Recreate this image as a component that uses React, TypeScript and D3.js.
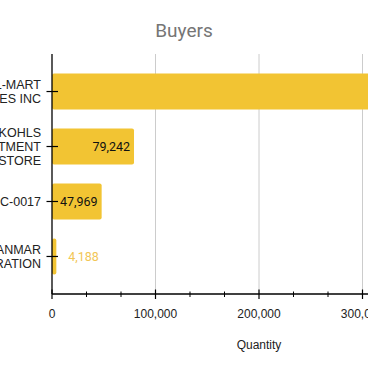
import React from "react";
import * as d3 from "d3";

const categories = ["WAL-MART|STORES INC", "KOHLS|DEPARTMENT|STORE", "PUBLIC-0017", "YANMAR|CORPORATION"];
const values = [352418, 79242, 47969, 4188];
const majorTicks = [0, 100000, 200000, 300000, 400000];
const minorTicks = [33333, 66667, 133333, 166667, 233333, 266667, 333333, 366667];

const W = 368, H = 371;
const left = 52, right = 466, top = 54, bottom = 294;
const barColor = "#F2C433";

export default function App() {
  const x = d3.scaleLinear().domain([0, 400000]).range([left, right]);
  const y = d3.scaleBand().domain(categories).range([top, bottom]).paddingInner(0.345).paddingOuter(0.355);
  const fmt = d3.format(",");
  return (
    <svg width={W} height={H} style={{ position: "absolute", left: 0, top: 0, overflow: "hidden" }}>
      <text x={W / 2} y={37} textAnchor="middle" fontFamily="Roboto, Arial, sans-serif" fontSize={19} fill="#757575">Buyers</text>
      {majorTicks.slice(1).map(t => (
        <line key={"g" + t} x1={x(t)} x2={x(t)} y1={top} y2={bottom} stroke="#cccccc" strokeWidth={1} />
      ))}
      {categories.map((c, i) => {
        const v = values[i];
        const y0 = y(c)!;
        const bw = y.bandwidth();
        const w = x(v) - x(0);
        const inside = w > 40;
        return (
          <g key={c}>
            <rect x={x(0)} y={y0} width={w} height={bw} rx={2} ry={2} fill={barColor} />
            <text x={inside ? x(v) - 4 : x(v) + 12} y={y0 + bw / 2 + 4.5} textAnchor={inside ? "end" : "start"}
              fontFamily="Roboto, Arial, sans-serif" fontSize={12.5} fill={inside ? "#111111" : "#F2C655"}>{fmt(v)}</text>
          </g>
        );
      })}
      <line x1={left} x2={left} y1={top} y2={bottom} stroke="#000" strokeWidth={1.3} />
      <line x1={left} x2={right} y1={bottom} y2={bottom} stroke="#000" strokeWidth={1.3} />
      {categories.map(c => {
        const lines = c.split("|");
        const cy = y(c)! + y.bandwidth() / 2;
        const lh = 14;
        const start = cy - ((lines.length - 1) * lh) / 2;
        return (
          <g key={"l" + c}>
            <line x1={left - 5.5} x2={left + 6} y1={cy} y2={cy} stroke="#000" strokeWidth={1.2} />
            {lines.map((ln, j) => (
              <text key={j} x={41} y={start + j * lh + 4.5} textAnchor="end" fontFamily="'Liberation Sans', Arial, sans-serif" fontSize={12.5} fill="#222">{ln}</text>
            ))}
          </g>
        );
      })}
      {majorTicks.map(t => (
        <g key={"t" + t}>
          <line x1={x(t)} x2={x(t)} y1={bottom - 4.5} y2={bottom + 5} stroke="#000" strokeWidth={1.2} />
          <text x={x(t)} y={318} textAnchor="middle" fontFamily="'Liberation Sans', Arial, sans-serif" fontSize={12} fill="#222">{fmt(t)}</text>
        </g>
      ))}
      {minorTicks.map(t => (
        <line key={"m" + t} x1={x(t)} x2={x(t)} y1={bottom - 2.5} y2={bottom + 3} stroke="#000" strokeWidth={1} />
      ))}
      <text x={x(200000)} y={349} textAnchor="middle" fontFamily="'Liberation Sans', Arial, sans-serif" fontSize={12} fill="#222">Quantity</text>
    </svg>
  );
}
